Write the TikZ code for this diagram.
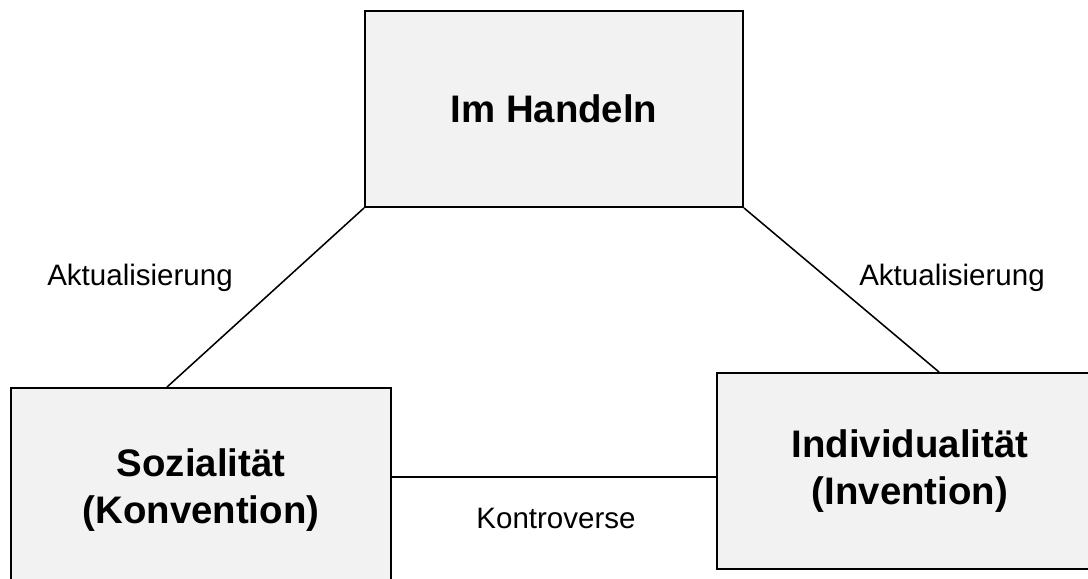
\documentclass[tikz,border=0pt]{standalone}
\usepackage{fontspec}
\setmainfont{Liberation Sans}
\usetikzlibrary{positioning,calc}
\definecolor{boxgrey}{HTML}{F2F2F2}
\tikzset{
  box/.style={draw=black,fill=boxgrey,line width=1.4pt,align=center,font=\fontsize{27.3}{33.4}\selectfont\bfseries},
  lbl/.style={font=\fontsize{21}{25}\selectfont,inner sep=0pt},
  link/.style={draw=black,line width=1.1pt}}

\begin{document}
\begin{tikzpicture}
  \clip (0,0) rectangle (27.2,-14.45);
  \node[box,minimum width=9.45cm,minimum height=4.9cm] (hand) at (13.85,-2.725) {Im Handeln};
  \node[box,minimum width=9.5cm,minimum height=5.1cm] (soz) at (5.025,-12.25) {Sozialit\"at\\(Konvention)};
  \node[box,minimum width=9.65cm,minimum height=4.9cm] (ind) at (22.75,-11.775) {Individualit\"at\\(Invention)};
  \coordinate (sozT) at ($(soz.north west)+(3.925,0)$);
  \coordinate (indT) at ($(ind.north west)+(5.575,0)$);
  \coordinate (kl) at ($(soz.north east)+(0,-2.25)$);
  \draw[link] (hand.south west) -- (sozT);
  \draw[link] (hand.south east) -- (indT);
  \draw[link] (kl) -- (kl -| ind.west);
  \node[lbl] (akl) at (3.5,-6.95) {Aktualisierung};
  \node[lbl] (akr) at (23.8,-6.95) {Aktualisierung};
  \node[lbl] (kon) at (13.9,-12.95) {Kontroverse};
\end{tikzpicture}
\end{document}
